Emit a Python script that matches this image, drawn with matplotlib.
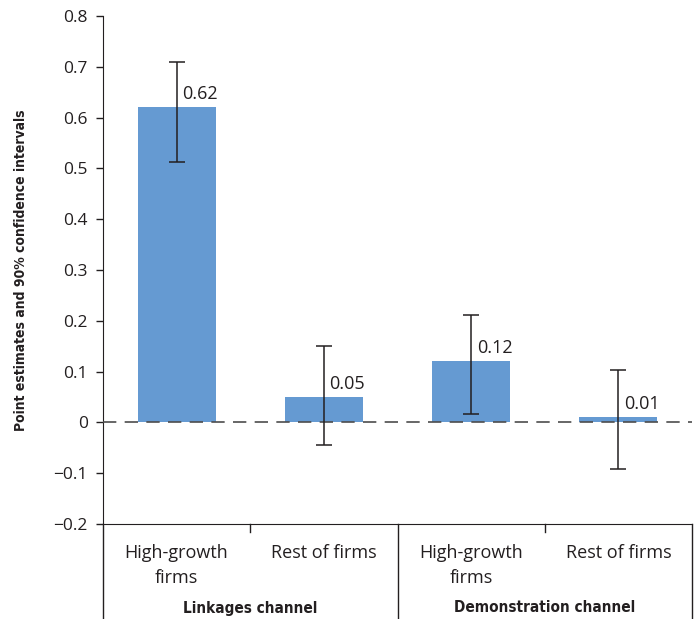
import matplotlib
matplotlib.use("Agg")
import matplotlib.pyplot as plt
import matplotlib.transforms as mtransforms
from matplotlib.lines import Line2D

# Point estimates with 90% confidence intervals
categories = ["High-growth\nfirms", "Rest of firms", "High-growth\nfirms", "Rest of firms"]
groups = ["Linkages channel", "Demonstration channel"]
estimates = [0.62, 0.05, 0.12, 0.01]
ci_low = [0.512, -0.045, 0.016, -0.091]
ci_high = [0.709, 0.150, 0.211, 0.104]
yticks = [-0.2, -0.1, 0.0, 0.1, 0.2, 0.3, 0.4, 0.5, 0.6, 0.7, 0.8]

plt.rcParams["font.family"] = ["Open Sans", "DejaVu Sans"]
bar_color = "#659AD2"
text_color = "#231F20"
bold_font = dict(family="DejaVu Sans", fontweight="bold", fontstretch="condensed")

fig = plt.figure(figsize=(6.96, 6.19), dpi=100)
ax = fig.add_axes([103 / 696, 1 - 524 / 619, 589 / 696, 508 / 619])

x = list(range(len(estimates)))
ax.bar(x, estimates, width=0.53, color=bar_color, zorder=2)
yerr = [[e - lo for e, lo in zip(estimates, ci_low)],
        [hi - e for e, hi in zip(estimates, ci_high)]]
ax.errorbar(x, estimates, yerr=yerr, fmt="none", ecolor=text_color,
            elinewidth=1.1, capsize=5.5, capthick=1.1, zorder=4)
ax.axhline(0, color="#4d4d4d", lw=1.2, dashes=(8, 5), zorder=3)

for xi, v in zip(x, estimates):
    ax.annotate(f"{v:.2f}", (xi, v), xytext=(4, 3), textcoords="offset points",
                ha="left", va="bottom", fontsize=13, color=text_color, zorder=5)

ax.set_xlim(-0.5, 3.5)
ax.set_ylim(-0.2, 0.8)
ax.set_yticks(yticks)
ax.set_yticklabels([f"{t:.1f}".replace("-", "\u2212") if t != 0 else "0" for t in yticks],
                   fontsize=12.5, color=text_color)
ax.tick_params(axis="y", direction="out", length=5, width=1, color=text_color, pad=6)
ax.set_xticks([])
for s in ["top", "right"]:
    ax.spines[s].set_visible(False)
ax.spines["left"].set_color(text_color)
ax.spines["bottom"].set_color(text_color)

ax.set_ylabel("Point estimates and 90% confidence intervals", fontsize=10,
              color=text_color, **bold_font)
ax.yaxis.set_label_coords(-75 / 589, 0.5)

# Category frame below the plot area
trans = mtransforms.blended_transform_factory(ax.transData, ax.transAxes)
depth = -95 / 508
for xv in [-0.5, 1.5, 3.5]:
    ax.add_line(Line2D([xv, xv], [0, depth], transform=trans, color=text_color,
                       lw=1, clip_on=False))
for xv in [0.5, 2.5]:
    ax.add_line(Line2D([xv, xv], [0, -8 / 508], transform=trans, color=text_color,
                       lw=1, clip_on=False))

for xi, lab in zip(x, categories):
    for li, line in enumerate(lab.split("\n")):
        ax.text(xi, -(29 + 25 * li) / 508, line, transform=trans, ha="center",
                va="center", fontsize=13, color=text_color)
for gi, g in enumerate(groups):
    ax.text(0.5 + 2 * gi, -84 / 508, g, transform=trans, ha="center", va="center",
            fontsize=11, color=text_color, **bold_font)

fig.savefig("out.png", dpi=100)
